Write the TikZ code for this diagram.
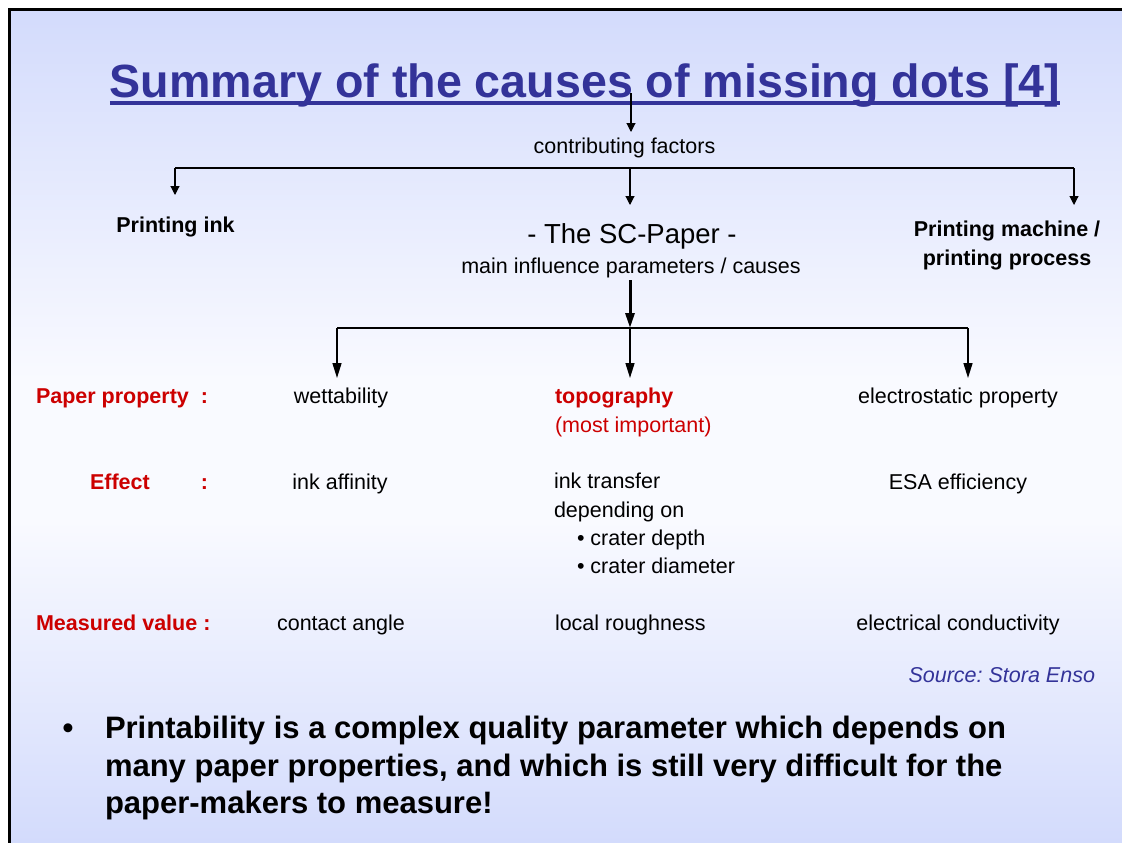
\documentclass[tikz,border=0pt]{standalone}
\usepackage{fontspec}
\setmainfont{Liberation Sans}
\usetikzlibrary{arrows.meta,calc}
\definecolor{bgblue}{RGB}{211,219,252}
\definecolor{bgwhite}{RGB}{249,250,255}
\definecolor{titleblue}{RGB}{51,51,153}
\definecolor{labred}{RGB}{204,0,0}
\newcommand\fsz[2]{\fontsize{#1}{#2}\selectfont}
\frenchspacing
\begin{document}
\begin{tikzpicture}[x=1pt,y=-1pt,
  every node/.style={inner sep=0pt,outer sep=0pt},
  body/.style={anchor=base,font=\fsz{21.5}{26}},
  bodyl/.style={anchor=base west,font=\fsz{21.5}{26}},
  bodyb/.style={anchor=base,font=\bfseries\fsz{21.5}{26}},
  rowlbl/.style={anchor=base west,text=labred,font=\bfseries\fsz{21.5}{26}},
  thinline/.style={line width=1.1pt},
  midline/.style={line width=1.5pt},
  tarr/.style={line width=1.1pt,-{Triangle[length=9pt,width=9pt]}},
  marr/.style={line width=1.5pt,-{Triangle[length=15pt,width=9pt]}},
  karr/.style={line width=3pt,-{Triangle[length=15pt,width=9pt]}},
  bigtext/.style={anchor=base west,font=\bfseries\fsz{31}{37}}
]
\useasboundingbox (0,0) rectangle (1122,843);
% background
\fill[white] (0,0) rectangle (1122,843);
\shade[top color=bgblue,bottom color=bgwhite] (9.5,9.5) rectangle (1122,380);
\fill[bgwhite] (9.5,380) rectangle (1122,520);
\shade[top color=bgwhite,bottom color=bgblue] (9.5,520) rectangle (1122,843);
\draw[line width=3pt] (9.5,843) -- (9.5,9.5) -- (1122,9.5);

% title
\node[anchor=base,text=titleblue,font=\bfseries\fsz{46.6}{56}] (title) at (585,97) {Summary of the causes of missing dots [4]};
\draw[titleblue,line width=4pt] ([yshift=-6pt]title.base west) -- ([yshift=-6pt]title.base east);

% contributing factors
\node[body] (cf) at (624.5,153) {contributing factors};
\coordinate (t0) at (631,93);
\coordinate (t1) at (631,132);
\draw[tarr] (t0) -- (t1);

% first tree
\coordinate (hL) at (175,168);
\coordinate (hM) at (630,168);
\coordinate (hR) at (1074,168);
\coordinate (tipL) at (175,195);
\coordinate (tipM) at (630,205);
\coordinate (tipR) at (1074,205);
\draw[thinline] (hL) -- (hR);
\draw[tarr] (hL) -- (tipL);
\draw[tarr] (hM) -- (tipM);
\draw[tarr] (hR) -- (tipR);

\node[bodyb] (ink) at (175.5,232) {Printing ink};
\node[bodyb] (mach1) at (1007,236) {Printing machine /};
\node[bodyb] (mach2) at (1007,265) {printing process};
\node[anchor=base,font=\fsz{27.5}{33}] (sc) at (632,243) {- The SC-Paper -};
\node[body] (mip) at (631,273) {main influence parameters / causes};

% second tree
\coordinate (k0) at (630,280);
\coordinate (k1) at (630,328);
\draw[karr] (k0) -- (k1);
\coordinate (gL) at (337,328);
\coordinate (gM) at (630,328);
\coordinate (gR) at (968,328);
\coordinate (sL) at (337,378);
\coordinate (sM) at (630,378);
\coordinate (sR) at (968,378);
\draw[midline] (gL) -- (gR);
\draw[marr] (gL) -- (sL);
\draw[marr] (gM) -- (sM);
\draw[marr] (gR) -- (sR);

% row labels
\node[rowlbl] (lpp) at (36,403) {\makebox[165pt][l]{Paper property}:};
\node[rowlbl] (lef) at (90,489) {\makebox[111pt][l]{Effect}:};
\node[rowlbl] (lmv) at (36,630) {Measured value :};

% left column
\node[body] (wet) at (341,403) {wettability};
\node[body] (aff) at (340,489) {ink affinity};
\node[body] (ca) at (341,630) {contact angle};

% middle column
\node[anchor=base west,text=labred,font=\bfseries\fsz{21.5}{26}] (topo) at (555,403) {topography};
\node[anchor=base west,text=labred,font=\fsz{21.5}{26}] (most) at (555,432) {(most important)};
\node[bodyl] (it) at (554,488) {ink transfer};
\node[bodyl] (dep) at (554,517) {depending on};
\node[bodyl] (cd) at (577,545) {\textbullet\ crater depth};
\node[bodyl] (cdia) at (577,573) {\textbullet\ crater diameter};
\node[bodyl] (lr) at (555,630) {local roughness};

% right column
\node[body] (esp) at (958,403) {electrostatic property};
\node[body] (esa) at (958,489) {ESA efficiency};
\node[body] (ec) at (958,630) {electrical conductivity};

% source
\node[anchor=base east,text=titleblue,font=\itshape\fsz{21.5}{26}] (src) at (1095,682) {Source: Stora Enso};

% bullet text
\node[anchor=base,font=\bfseries\fsz{31}{37}] (bul) at (68,738) {\textbullet};
\node[bigtext] (bt1) at (105,738) {Printability is a complex quality parameter which depends on};
\node[bigtext] (bt2) at (105,776) {many paper properties, and which is still very difficult for the};
\node[bigtext] (bt3) at (105,813) {paper-makers to measure!};
\end{tikzpicture}
\end{document}
